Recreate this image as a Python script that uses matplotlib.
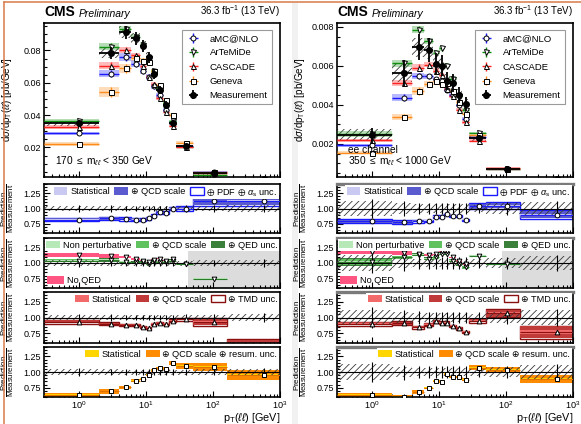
import numpy as np
import matplotlib
matplotlib.use("Agg")
import matplotlib.pyplot as plt
from matplotlib.patches import Patch, Rectangle
from matplotlib.lines import Line2D
from matplotlib.ticker import MultipleLocator, FormatStrFormatter, FixedLocator, LogLocator, NullFormatter

plt.rcParams['font.family'] = ['Liberation Sans', 'DejaVu Sans']
plt.rcParams['mathtext.fontset'] = 'custom'
plt.rcParams['mathtext.rm'] = 'Liberation Sans'
plt.rcParams['mathtext.it'] = 'Liberation Sans:italic'
plt.rcParams['mathtext.bf'] = 'Liberation Sans:bold'
plt.rcParams['mathtext.fallback'] = 'stixsans'
plt.rcParams['hatch.linewidth'] = 0.6

nan = np.nan

# pT(ll) bin edges [GeV]
pt_edges = [0, 2, 4, 6, 8, 10, 12, 14, 18, 22, 28, 50, 160, 1000]

# ---------------- 170 <= m_ll < 350 GeV ----------------
meas_lo = [0.0350, 0.0785, 0.0912, 0.0876, 0.0828, 0.0758, 0.0656, 0.0556, 0.0465, 0.0352, 0.0207, 0.0043, 0.0003]
meas_lo_syst = [0.045, 0.042, 0.040, 0.040, 0.040, 0.040, 0.040, 0.040, 0.040, 0.040, 0.040, 0.045, 0.050]
meas_lo_tot = [0.060, 0.050, 0.045, 0.045, 0.045, 0.045, 0.045, 0.045, 0.045, 0.045, 0.050, 0.055, 0.065]

amc_lo = [0.82, 0.837, 0.83, 0.82, 0.816, 0.837, 0.88, 0.94, 0.93, 1.00, 1.00, 1.117, 1.128]
amc_lo_stat = [0.004, 0.004, 0.004, 0.004, 0.004, 0.004, 0.004, 0.005, 0.005, 0.005, 0.006, 0.010, 0.015]
amc_lo_scale = [0.024, 0.022, 0.020, 0.018, 0.018, 0.018, 0.019, 0.020, 0.020, 0.022, 0.027, 0.065, 0.075]
amc_lo_pdf = [0.032, 0.030, 0.027, 0.024, 0.024, 0.024, 0.025, 0.026, 0.026, 0.028, 0.034, 0.075, 0.085]

art_lo = [1.04, 1.05, 1.02, 1.01, 1.01, 0.99, 1.03, 1.02, 1.02, 1.04, 0.98, 0.75, nan]
art_lo_np = [0.008, 0.008, 0.006, 0.006, 0.006, 0.006, 0.006, 0.006, 0.006, 0.006, 0.005, 0.004, nan]
art_lo_scale = [0.020, 0.018, 0.015, 0.014, 0.014, 0.014, 0.014, 0.014, 0.014, 0.014, 0.010, 0.008, nan]
art_lo_qed = [0.030, 0.026, 0.020, 0.018, 0.018, 0.018, 0.018, 0.018, 0.018, 0.018, 0.012, 0.010, nan]
noqed_lo = [1.125, 1.115, 1.10, 1.07, 1.03, 1.01, 1.05, 1.07, 1.04, 1.06, nan, nan, nan]
noqed_lo_unc = [0.032, 0.030, 0.020, 0.015, 0.012, 0.012, 0.012, 0.012, 0.012, 0.012, nan, nan, nan]

cas_lo = [0.93, 0.90, 0.88, 0.88, 0.85, 0.84, 0.90, 0.91, 0.90, 0.95, 0.975, 0.93, 0.52]
cas_lo_stat = [0.005, 0.005, 0.005, 0.005, 0.006, 0.006, 0.006, 0.006, 0.006, 0.008, 0.010, 0.020, 0.050]
cas_lo_scale = [0.024, 0.020, 0.017, 0.016, 0.016, 0.016, 0.016, 0.016, 0.016, 0.018, 0.022, 0.055, 0.130]
cas_lo_tmd = [0.032, 0.025, 0.020, 0.018, 0.018, 0.018, 0.018, 0.018, 0.018, 0.020, 0.025, 0.060, 0.140]

gen_lo = [0.633, 0.69, 0.755, 0.86, 0.89, 0.96, 1.025, 1.06, 1.055, 1.14, 1.10, 1.077, 0.95]
gen_lo_stat = [0.010, 0.010, 0.008, 0.008, 0.008, 0.008, 0.008, 0.008, 0.008, 0.010, 0.012, 0.015, 0.020]
gen_lo_scale = [0.035, 0.040, 0.028, 0.022, 0.020, 0.020, 0.020, 0.020, 0.022, 0.030, 0.045, 0.060, 0.080]

# ---------------- 350 <= m_ll < 1000 GeV (ee) ----------------
meas_hi = [0.00244, 0.00563, 0.00695, 0.00682, 0.00612, 0.00601, 0.00523, 0.00514, 0.00452, 0.00403, 0.00228, 0.00070, 0.00021]
meas_hi_syst = [0.125, 0.085, 0.070, 0.068, 0.068, 0.068, 0.068, 0.068, 0.068, 0.068, 0.060, 0.085, 0.110]
meas_hi_tot = [0.160, 0.120, 0.095, 0.090, 0.090, 0.090, 0.090, 0.090, 0.090, 0.090, 0.080, 0.100, 0.130]

amc_hi = [0.79, 0.775, 0.79, 0.80, 0.867, 0.867, 0.913, 0.877, 0.88, 0.816, 1.036, 1.046, 0.90]
amc_hi_stat = [0.006, 0.006, 0.006, 0.006, 0.006, 0.006, 0.006, 0.006, 0.006, 0.006, 0.008, 0.010, 0.015]
amc_hi_scale = [0.024, 0.022, 0.018, 0.017, 0.017, 0.017, 0.017, 0.017, 0.017, 0.017, 0.040, 0.045, 0.060]
amc_hi_pdf = [0.032, 0.030, 0.022, 0.020, 0.020, 0.020, 0.020, 0.020, 0.020, 0.020, 0.050, 0.055, 0.070]

art_hi = [1.02, 1.09, 1.13, 1.07, 1.09, 1.15, 1.15, 1.04, 0.98, 0.93, 1.12, 0.99, nan]
art_hi_np = [0.020, 0.010, 0.008, 0.008, 0.008, 0.008, 0.008, 0.008, 0.008, 0.008, 0.006, 0.005, nan]
art_hi_scale = [0.050, 0.025, 0.020, 0.018, 0.018, 0.018, 0.018, 0.018, 0.018, 0.018, 0.012, 0.012, nan]
art_hi_qed = [0.065, 0.030, 0.025, 0.022, 0.022, 0.022, 0.022, 0.022, 0.022, 0.022, 0.015, 0.015, nan]
noqed_hi = [1.18, 1.16, 1.15, 1.13, 1.14, 1.19, 1.20, 1.09, 1.03, 0.98, nan, nan, nan]
noqed_hi_unc = [0.030, 0.028, 0.015, 0.012, 0.012, 0.012, 0.012, 0.012, 0.012, 0.012, nan, nan, nan]

cas_hi = [0.90, 0.91, 0.85, 0.89, 0.94, 0.92, 0.92, 0.87, 0.83, 0.775, 0.95, 1.07, 0.77]
cas_hi_stat = [0.006, 0.006, 0.006, 0.006, 0.006, 0.006, 0.006, 0.006, 0.006, 0.008, 0.010, 0.020, 0.030]
cas_hi_scale = [0.024, 0.022, 0.020, 0.016, 0.016, 0.016, 0.016, 0.016, 0.016, 0.018, 0.025, 0.055, 0.090]
cas_hi_tmd = [0.032, 0.028, 0.024, 0.019, 0.019, 0.019, 0.019, 0.019, 0.019, 0.020, 0.030, 0.060, 0.100]

gen_hi = [0.633, 0.60, 0.68, 0.745, 0.857, 0.847, 0.975, 0.92, 0.92, 0.88, 1.07, 1.036, 0.89]
gen_hi_stat = [0.010, 0.010, 0.008, 0.008, 0.008, 0.008, 0.008, 0.008, 0.008, 0.008, 0.012, 0.015, 0.020]
gen_hi_scale = [0.035, 0.030, 0.028, 0.022, 0.020, 0.020, 0.020, 0.020, 0.020, 0.022, 0.040, 0.050, 0.060]

# ---------------- style ----------------
C_AMC, C_ART, C_CAS, C_GEN = '#1a1aff', '#109010', '#ff2020', '#ff8c1a'
XMIN, XMAX = 0.3, 1000.0
W, H = 581, 424
fig = plt.figure(figsize=(W / 100, H / 100), dpi=100)

# slide decorations
fig.add_artist(Rectangle((292 / W, 0), 6 / W, 1 - 3 / H, transform=fig.transFigure,
                         facecolor='#f1f1f1', edgecolor='none', zorder=-5))
fig.add_artist(Line2D([4 / W, 4 / W], [0, 1 - 1.5 / H], transform=fig.transFigure,
                      color='#d97a4a', lw=1.1))
fig.add_artist(Line2D([4 / W, 1], [1 - 1.5 / H, 1 - 1.5 / H], transform=fig.transFigure,
                      color='#d97a4a', lw=1.1))

RATIO_ROWS = [(184, 233), (238, 288), (292, 343), (347, 397)]
HATCH = '/////'


def px_axes(x0, x1, y0, y1):
    return fig.add_axes([x0 / W, 1 - y1 / H, (x1 - x0) / W, (y1 - y0) / H])


def style_axes(ax):
    ax.set_xscale('log')
    ax.set_xlim(XMIN, XMAX)
    ax.xaxis.set_major_locator(FixedLocator([1, 10, 100, 1000]))
    ax.xaxis.set_minor_locator(LogLocator(base=10, subs=np.arange(2, 10)))
    ax.xaxis.set_minor_formatter(NullFormatter())
    ax.tick_params(which='both', direction='in', top=False, right=False, labelsize=6.5,
                   width=0.8, pad=2)
    ax.tick_params(which='major', length=4)
    ax.tick_params(which='minor', length=2)
    for s in ax.spines.values():
        s.set_linewidth(1.2)


def bin_geometry():
    e = np.array(pt_edges, float)
    left = np.maximum(e[:-1], XMIN)
    right = e[1:]
    centers = 0.5 * (e[:-1] + e[1:])
    return left, right, centers


def boxes(ax, center, half, **kw):
    left, right, _ = bin_geometry()
    c = np.array(center, float)
    h = np.array(half, float)
    ok = np.isfinite(c) & np.isfinite(h)
    ax.bar(left[ok], 2 * h[ok], bottom=c[ok] - h[ok], width=(right - left)[ok],
           align='edge', **kw)


def draw_half(x0, x1, meas, m_syst, m_tot, models, art_extra, gen_extra, cas_extra,
              amc_extra, yfmt, ylim, ymajor, yminor, mass_lines, gray_from, gray_sep):
    left, right, centers = bin_geometry()
    meas = np.array(meas, float)
    xerr = [centers - left, right - centers]

    # ---------- main panel ----------
    ax = px_axes(x0, x1, 23, 177)
    style_axes(ax)
    ax.set_ylim(*ylim)
    ax.yaxis.set_major_locator(MultipleLocator(ymajor))
    ax.yaxis.set_minor_locator(MultipleLocator(yminor))
    ax.yaxis.set_major_formatter(FormatStrFormatter(yfmt))
    ax.tick_params(labelbottom=False)
    ax.set_ylabel(r'd$\sigma$/dp$_{\rm T}$($\ell\ell$) [pb/GeV]', fontsize=7)
    ax.yaxis.set_label_coords(-0.125, 0.5)

    boxes(ax, meas, meas * np.array(m_syst), facecolor='none', edgecolor='#3a3a3a',
          hatch=HATCH, linewidth=0, zorder=2)
    handles = []
    for name, ratio, unc, color, mk in models:
        r = np.array(ratio, float)
        pred = meas * r
        u = meas * np.array(unc, float)
        boxes(ax, pred, u, facecolor=color, alpha=0.3, linewidth=0, zorder=3)
        ok = np.isfinite(pred)
        h = ax.errorbar(centers[ok], pred[ok], xerr=[xerr[0][ok], xerr[1][ok]], yerr=u[ok],
                        fmt=mk, color=color, mec='k', mfc='white', ms=3.6, mew=0.7,
                        lw=1.0, capsize=0, zorder=5, label=name)
        handles.append(h)
    hm = ax.errorbar(centers, meas, xerr=xerr, yerr=meas * np.array(m_tot), fmt='o',
                     color='k', ms=4, lw=1.3, capsize=0, zorder=6, label='Measurement')
    handles.append(hm)
    leg = ax.legend(handles=handles, loc='upper right', bbox_to_anchor=(0.985, 0.985),
                    fontsize=6.8, frameon=True, fancybox=False, edgecolor='#9a9a9a',
                    framealpha=1, borderpad=0.45, labelspacing=0.55, handlelength=1.6,
                    handletextpad=0.9)
    leg.get_frame().set_linewidth(0.8)

    for i, txt in enumerate(mass_lines):
        ax.text(0.045, 0.06 + 0.08 * (len(mass_lines) - 1 - i), txt, transform=ax.transAxes,
                fontsize=7.3, ha='left', va='bottom', zorder=10)
    ax.text(0.0, 1.025, 'CMS', transform=ax.transAxes, fontsize=10, fontweight='bold',
            ha='left', va='bottom')
    ax.text(0.145, 1.025, 'Preliminary', transform=ax.transAxes, fontsize=7.5,
            style='italic', ha='left', va='bottom')
    ax.text(1.0, 1.025, r'36.3 fb$^{-1}$ (13 TeV)', transform=ax.transAxes, fontsize=7,
            ha='right', va='bottom')

    # ---------- ratio panels ----------
    panels = [amc_extra, art_extra, cas_extra, gen_extra]
    rax_list = []
    for k, (y0, y1) in enumerate(RATIO_ROWS):
        rax = px_axes(x0, x1, y0, y1)
        style_axes(rax)
        rax.set_ylim(0.6, 1.4)
        rax.yaxis.set_major_locator(FixedLocator([0.75, 1.0, 1.25]))
        rax.yaxis.set_minor_locator(MultipleLocator(0.05))
        rax.yaxis.set_major_formatter(FormatStrFormatter('%.2f'))
        rax.set_ylabel(r'$\dfrac{\mathrm{Prediction}}{\mathrm{Measurement}}$', fontsize=5.6)
        rax.yaxis.set_label_coords(-0.12, 0.5)
        if gray_sep:
            rax.spines['top'].set_color('#7a7a7a')
            rax.spines['top'].set_linewidth(2.4)
        if k < 3:
            rax.tick_params(labelbottom=False)
        rax_list.append(rax)

        p = panels[k]
        ratio = np.array(p['ratio'], float)
        for half, fc, ec, lw in p['layers']:
            boxes(rax, ratio, half, facecolor=fc, edgecolor=ec, linewidth=lw, zorder=2)
        if 'noqed' in p:
            boxes(rax, p['noqed'], p['noqed_unc'], facecolor='#ff5580', linewidth=0, zorder=1.5)
        if k == 1:
            rax.axvspan(gray_from, XMAX, color='#dcdcdc', zorder=0.5, lw=0)

        # measurement uncertainty around unity
        boxes(rax, np.ones(13), m_syst, facecolor='none', edgecolor='#3a3a3a',
              hatch=HATCH, linewidth=0, zorder=4)
        rax.errorbar(centers, np.ones(13), xerr=xerr, yerr=m_tot, fmt='none', ecolor='k',
                     lw=0.8, capsize=0, zorder=5)

        ok = np.isfinite(ratio)
        rax.hlines(ratio[ok], left[ok], right[ok], color=p['line'], lw=0.8, zorder=6)
        rax.plot(centers[ok], ratio[ok], p['marker'], mfc='white', mec='k', ms=3.4,
                 mew=0.7, zorder=7, clip_on=True)
        if 'noqed' in p:
            nq = np.array(p['noqed'], float)
            okq = np.isfinite(nq)
            rax.plot(centers[okq], nq[okq], p['marker'], mfc='white', mec='k', ms=3.4,
                     mew=0.7, zorder=7)

        lg = rax.legend(handles=p['legend'], loc='upper right', bbox_to_anchor=(1.0, 1.0),
                        ncol=len(p['legend']), fontsize=6.6, frameon=True, fancybox=False,
                        edgecolor='none', facecolor='white', framealpha=1, borderpad=0.15,
                        borderaxespad=0.15, handlelength=1.5, handleheight=0.9,
                        handletextpad=0.3, columnspacing=0.5)
        lg.set_zorder(10)
        if 'noqed' in p:
            rax.add_artist(lg)
            lq = rax.legend(handles=[Patch(facecolor='#ff5580', edgecolor='none')],
                            labels=['No QED'], loc='lower left', fontsize=6.6, frameon=False,
                            borderaxespad=0.15, borderpad=0.15, handlelength=1.9,
                            handleheight=0.9, handletextpad=0.3)
            lq.set_zorder(10)

    bot = rax_list[-1]
    bot.set_xticklabels([r'$10^{0}$', r'$10^{1}$', r'$10^{2}$', r'$10^{3}$'])
    bot.tick_params(axis='x', labelsize=6.6, pad=1.5)
    bot.set_xlabel(r'p$_{\rm T}$($\ell\ell$) [GeV]', fontsize=7.8, loc='right', labelpad=0)


def make_panels(amc, amc_st, amc_sc, amc_pdf, art, art_np, art_sc, art_qed, nq, nq_u,
                cas, cas_st, cas_sc, cas_tmd, gen, gen_st, gen_sc):
    amc_p = dict(ratio=amc, marker='o', line='#2020ff',
                 layers=[(amc_pdf, 'none', '#1a1aff', 1.0), (amc_sc, '#5b5bd0', 'none', 0),
                         (amc_st, '#c9c9f2', 'none', 0)],
                 legend=[Patch(facecolor='#c9c9f2', edgecolor='none', label='Statistical'),
                         Patch(facecolor='#5b5bd0', edgecolor='none', label='⊕ QCD scale'),
                         Patch(facecolor='white', edgecolor='#1a1aff', lw=1.0,
                               label=r'$\oplus$ PDF $\oplus$ $\alpha_{\rm s}$ unc.')])
    art_p = dict(ratio=art, marker='v', line='#2a7a2a', noqed=nq, noqed_unc=nq_u,
                 layers=[(art_qed, '#3a7f3a', 'none', 0), (art_sc, '#5fc25f', 'none', 0),
                         (art_np, '#b7e8b7', 'none', 0)],
                 legend=[Patch(facecolor='#b7e8b7', edgecolor='none', label='Non perturbative'),
                         Patch(facecolor='#5fc25f', edgecolor='none', label='⊕ QCD scale'),
                         Patch(facecolor='#3a7f3a', edgecolor='none', label='⊕ QED unc.')])
    cas_p = dict(ratio=cas, marker='^', line='#8a1010',
                 layers=[(cas_tmd, 'none', '#8a1010', 1.0), (cas_sc, '#c03a3a', 'none', 0),
                         (cas_st, '#f26a6a', 'none', 0)],
                 legend=[Patch(facecolor='#f26a6a', edgecolor='none', label='Statistical'),
                         Patch(facecolor='#c03a3a', edgecolor='none', label='⊕ QCD scale'),
                         Patch(facecolor='white', edgecolor='#8a1010', lw=1.0,
                               label='⊕ TMD unc.')])
    gen_p = dict(ratio=gen, marker='s', line='#e07000',
                 layers=[(gen_sc, '#ff8c00', 'none', 0), (gen_st, '#ffd500', 'none', 0)],
                 legend=[Patch(facecolor='#ffd500', edgecolor='none', label='Statistical'),
                         Patch(facecolor='#ff8c00', edgecolor='none',
                               label='⊕ QCD scale ⊕ resum. unc.')])
    return amc_p, art_p, cas_p, gen_p


def main_models(amc, amc_pdf, art, art_qed, cas, cas_tmd, gen, gen_sc):
    return [('aMC@NLO', amc, amc_pdf, C_AMC, 'o'),
            ('ArTeMiDe', art, art_qed, C_ART, 'v'),
            ('CASCADE', cas, cas_tmd, C_CAS, '^'),
            ('Geneva', gen, gen_sc, C_GEN, 's')]


# left: 170-350 GeV
p_amc, p_art, p_cas, p_gen = make_panels(amc_lo, amc_lo_stat, amc_lo_scale, amc_lo_pdf,
                                         art_lo, art_lo_np, art_lo_scale, art_lo_qed,
                                         noqed_lo, noqed_lo_unc,
                                         cas_lo, cas_lo_stat, cas_lo_scale, cas_lo_tmd,
                                         gen_lo, gen_lo_stat, gen_lo_scale)
draw_half(44, 280, meas_lo, meas_lo_syst, meas_lo_tot,
          main_models(amc_lo, amc_lo_pdf, art_lo, art_lo_qed, cas_lo, cas_lo_tmd, gen_lo, gen_lo_scale),
          p_art, p_gen, p_cas, p_amc, '%.2f', (0.0017, 0.097), 0.02, 0.005,
          [r'170 $\leq$ m$_{\ell\ell}$ < 350 GeV'], 42.5, False)

# right: 350-1000 GeV, ee channel
p_amc, p_art, p_cas, p_gen = make_panels(amc_hi, amc_hi_stat, amc_hi_scale, amc_hi_pdf,
                                         art_hi, art_hi_np, art_hi_scale, art_hi_qed,
                                         noqed_hi, noqed_hi_unc,
                                         cas_hi, cas_hi_stat, cas_hi_scale, cas_hi_tmd,
                                         gen_hi, gen_hi_stat, gen_hi_scale)
draw_half(337, 573, meas_hi, meas_hi_syst, meas_hi_tot,
          main_models(amc_hi, amc_hi_pdf, art_hi, art_hi_qed, cas_hi, cas_hi_tmd, gen_hi, gen_hi_scale),
          p_art, p_gen, p_cas, p_amc, '%.3f', (0.0003, 0.0082), 0.002, 0.0005,
          ['ee channel', r'350 $\leq$ m$_{\ell\ell}$ < 1000 GeV'], 87.5, True)

fig.savefig('out.png', dpi=100)
